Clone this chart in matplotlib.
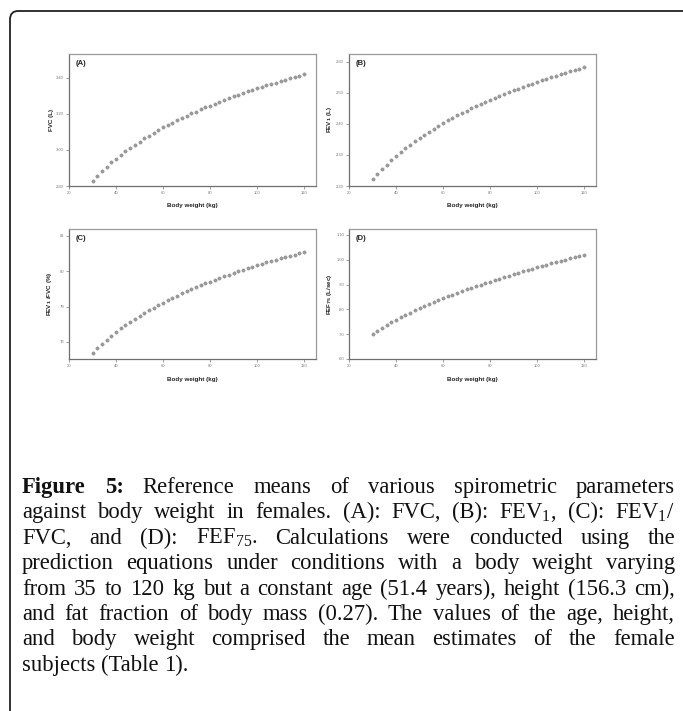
"""
Figure 5 - reference spirometry means vs body weight (females)
"""

import matplotlib
matplotlib.use("Agg")
import matplotlib.pyplot as plt
from matplotlib.patches import FancyBboxPatch

# ── Data ───────────────────────────────────────────────────
weight = [30, 32, 34, 36, 38, 40, 42, 44, 46, 48, 50, 52, 54, 56, 58, 60,
          62, 64, 66, 68, 70, 72, 74, 76, 78, 80, 82, 84, 86, 88, 90, 92,
          94, 96, 98, 100, 102, 104, 106, 108, 110, 112, 114, 116, 118, 120]

fvc = [2.830, 2.857, 2.883, 2.907, 2.930, 2.952, 2.973, 2.992, 3.011, 3.029,
       3.046, 3.063, 3.079, 3.094, 3.109, 3.124, 3.137, 3.151, 3.164, 3.177,
       3.189, 3.201, 3.212, 3.224, 3.235, 3.245, 3.256, 3.266, 3.276, 3.286,
       3.295, 3.305, 3.314, 3.323, 3.331, 3.340, 3.348, 3.357, 3.365, 3.372,
       3.380, 3.388, 3.395, 3.403, 3.410, 3.417]

fev1 = [2.222, 2.239, 2.255, 2.269, 2.284, 2.297, 2.310, 2.322, 2.333, 2.344,
        2.355, 2.365, 2.375, 2.384, 2.393, 2.402, 2.411, 2.419, 2.427, 2.435,
        2.442, 2.450, 2.457, 2.464, 2.470, 2.477, 2.483, 2.490, 2.496, 2.502,
        2.508, 2.513, 2.519, 2.524, 2.530, 2.535, 2.540, 2.545, 2.550, 2.555,
        2.560, 2.565, 2.569, 2.574, 2.578, 2.582]

ratio = [77.690, 77.823, 77.947, 78.065, 78.176, 78.281, 78.382, 78.477,
         78.568, 78.656, 78.740, 78.820, 78.898, 78.973, 79.045, 79.114,
         79.182, 79.247, 79.310, 79.372, 79.431, 79.489, 79.546, 79.600,
         79.654, 79.706, 79.756, 79.806, 79.854, 79.901, 79.948, 79.993,
         80.037, 80.080, 80.123, 80.164, 80.205, 80.245, 80.284, 80.322,
         80.360, 80.397, 80.433, 80.469, 80.504, 80.539]

fef75 = [0.7014, 0.7139, 0.7258, 0.7371, 0.7479, 0.7583, 0.7683, 0.7779,
         0.7872, 0.7961, 0.8048, 0.8132, 0.8215, 0.8294, 0.8372, 0.8448,
         0.8522, 0.8594, 0.8665, 0.8734, 0.8802, 0.8869, 0.8934, 0.8998,
         0.9061, 0.9123, 0.9184, 0.9244, 0.9303, 0.9361, 0.9419, 0.9475,
         0.9531, 0.9586, 0.9641, 0.9694, 0.9748, 0.9800, 0.9852, 0.9903,
         0.9954, 1.0004, 1.0054, 1.0103, 1.0152, 1.0200]

x_ticks = [20, 40, 60, 80, 100, 120]
x_ticklabels = ["20", "40", "60", "80", "100", "120"]

panel_tags = ["(A)", "(B)", "(C)", "(D)"]
y_labels = ["FVC (L)", r"FEV$_\mathbf{1}$ (L)", r"FEV$_\mathbf{1}$ /FVC (%)",
            r"FEF$_\mathbf{75}$ (L/sec)"]
y_ticks = [[2.8, 3.0, 3.2, 3.4],
           [2.2, 2.3, 2.4, 2.5, 2.6],
           [78, 79, 80, 81],
           [0.6, 0.7, 0.8, 0.9, 1.0, 1.1]]
y_ticklabels = [["2.80", "3.00", "3.20", "3.40"],
                ["2.20", "2.30", "2.40", "2.50", "2.60"],
                ["78", "79", "80", "81"],
                [".60", ".70", ".80", ".90", "1.00", "1.10"]]
y_limits = [(2.8, 3.53), (2.2, 2.625), (77.52, 81.19), (0.6, 1.124)]
series = [fvc, fev1, ratio, fef75]

caption_lines = [
    [("Figure", True), ("5:", True), ("Reference", False), ("means", False),
     ("of", False), ("various", False), ("spirometric", False), ("parameters", False)],
    "against body weight in females. (A): FVC, (B): FEV$_\\mathrm{1}$, (C): FEV$_\\mathrm{1}$/",
    "FVC, and (D): FEF$_\\mathrm{75}$. Calculations were conducted using the",
    "prediction equations under conditions with a body weight varying",
    "from 35 to 120 kg but a constant age (51.4 years), height (156.3 cm),",
    "and fat fraction of body mass (0.27). The values of the age, height,",
    "and body weight comprised the mean estimates of the female",
    "subjects (Table 1).",
]

# ── Style ──────────────────────────────────────────────────
plt.rcParams.update({
    "font.family": ["Liberation Sans", "DejaVu Sans"],
    "mathtext.fontset": "custom",
    "mathtext.rm": "Liberation Serif",
    "mathtext.it": "Liberation Serif:italic",
    "mathtext.bf": "Liberation Serif:bold",
})
W, H = 683, 711
DOT = "#9a9a9a"; FRAME = "#9a9a9a"; AXIS = "#6f6f6f"

fig = plt.figure(figsize=(W / 100, H / 100), dpi=100)
fig.patch.set_facecolor("white")

# rounded outer box (runs off right and bottom edges)
box = FancyBboxPatch((10 / W, -0.2), 1.2, 1 - 11 / H + 0.2,
                     boxstyle="round,pad=0,rounding_size=0.012",
                     transform=fig.transFigure, facecolor="none",
                     edgecolor="#222222", linewidth=1.3)
fig.patches.append(box)

# axes rectangles in pixels: left, right, top, bottom
rects = [(69, 316, 54, 186), (349, 596, 54, 186),
         (69, 316, 229, 359), (349, 596, 229, 359)]

for i, (l, r, t, b) in enumerate(rects):
    ax = fig.add_axes([l / W, 1 - b / H, (r - l) / W, (b - t) / H])
    ax.plot(weight, series[i], "o", color=DOT, markersize=2.4,
            markeredgewidth=0.3, markeredgecolor="#888888")
    ax.set_xlim(20, 125.1)
    ax.set_ylim(*y_limits[i])
    ax.set_xticks(x_ticks); ax.set_xticklabels(x_ticklabels)
    ax.set_yticks(y_ticks[i]); ax.set_yticklabels(y_ticklabels[i])
    ax.tick_params(labelsize=3, colors="#777777", length=2, width=0.5, pad=1.5)
    for s in ax.spines.values():
        s.set_color(FRAME); s.set_linewidth(0.9)
    ax.spines["bottom"].set_color(AXIS); ax.spines["left"].set_color(AXIS)
    ax.text(0.025, 0.955, panel_tags[i], transform=ax.transAxes, ha="left",
            va="top", fontsize=5.5, fontweight="bold", color="#222222")
    ax.set_xlabel("Body weight (kg)", fontsize=4.5, fontweight="bold", color="#222222")
    ax.xaxis.set_label_coords(0.5, -17.5 / (b - t))
    yl = ax.set_ylabel(y_labels[i], fontsize=4.5, fontweight="bold", color="#222222")
    yl.set_math_fontfamily("dejavusans")
    ax.yaxis.set_label_coords(-15 / (r - l), 0.5)

# ── Caption with full justification ────────────────────────
CAP_FS = 16.3
X0, X1 = 22, 675
baselines = [493 + 25.4 * k for k in range(len(caption_lines))]
renderer = fig.canvas.get_renderer()

for k, line in enumerate(caption_lines):
    if isinstance(line, str):
        words = [(w, False) for w in line.split(" ")]
    else:
        words = line
    yb = 1 - baselines[k] / H
    texts = []
    for w, bold in words:
        t = fig.text(0, yb, w, fontsize=CAP_FS, va="baseline", ha="left",
                     family="Liberation Serif", color="#111111",
                     fontweight="bold" if bold else "normal")
        texts.append(t)
    widths = [t.get_window_extent(renderer).width for t in texts]
    last = k == len(caption_lines) - 1
    space = CAP_FS * 1.39 * 0.25
    gap = space if last else (X1 - X0 - sum(widths)) / (len(words) - 1)
    x = X0
    for t, wd in zip(texts, widths):
        t.set_x(x / W)
        x += wd + gap

fig.savefig("out.png", dpi=100, facecolor="white")
